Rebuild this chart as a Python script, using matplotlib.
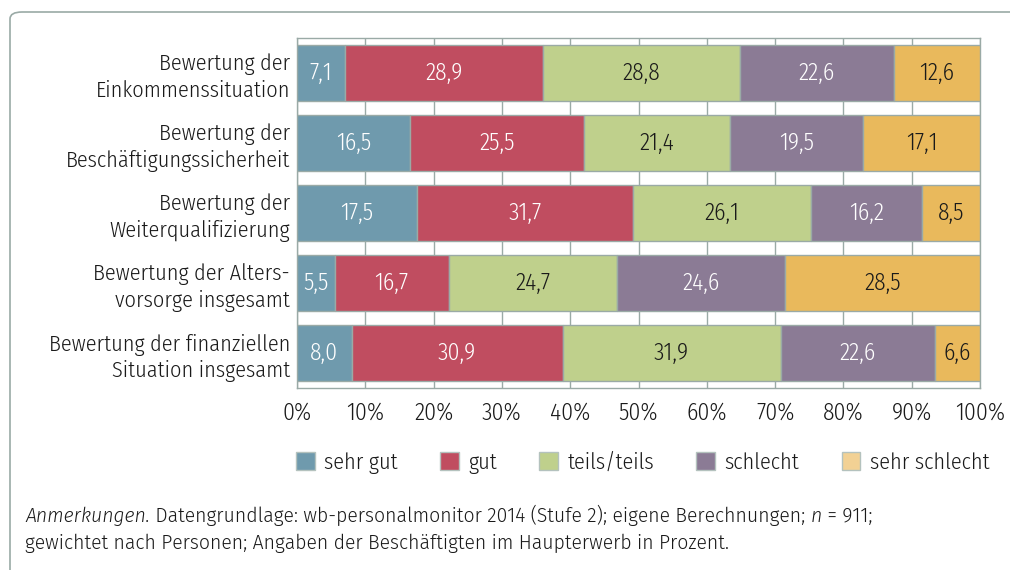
import os
import matplotlib
matplotlib.use("Agg")
import matplotlib.pyplot as plt
from matplotlib.patches import FancyBboxPatch, Patch
from matplotlib import font_manager
from matplotlib.font_manager import FontProperties

categories = [
    "Bewertung der\nEinkommenssituation",
    "Bewertung der\nBeschäftigungssicherheit",
    "Bewertung der\nWeiterqualifizierung",
    "Bewertung der Alters-\nvorsorge insgesamt",
    "Bewertung der finanziellen\nSituation insgesamt",
]
series_names = ["sehr gut", "gut", "teils/teils", "schlecht", "sehr schlecht"]
sehr_gut = [7.1, 16.5, 17.5, 5.5, 8.0]
gut = [28.9, 25.5, 31.7, 16.7, 30.9]
teils = [28.8, 21.4, 26.1, 24.7, 31.9]
schlecht = [22.6, 19.5, 16.2, 24.6, 22.6]
sehr_schlecht = [12.6, 17.1, 8.5, 28.5, 6.6]
series = [sehr_gut, gut, teils, schlecht, sehr_schlecht]
x_ticks = [0, 10, 20, 30, 40, 50, 60, 70, 80, 90, 100]
x_ticklabels = [f"{t}%" for t in x_ticks]

colors = ["#6f9aad", "#c04d60", "#bfd08c", "#8b7b95", "#e9b95c"]
legend_colors = ["#6f9aad", "#c04d60", "#bfd08c", "#8b7b95", "#f2d194"]
text_colors = ["white", "white", "#1a1a1a", "white", "#1a1a1a"]
edge = "#9aaaa6"

files = {os.path.basename(f.fname): f.fname for f in font_manager.fontManager.ttflist}


def pick(cands):
    for c in cands:
        if c in files:
            return files[c]
    return None


cond_reg = pick(["FiraSansCondensed-Light.ttf", "OpenSans_Condensed-Light.ttf",
                 "PTSansNarrow-Regular.ttf", "RobotoCondensed-Light.ttf"])
note_reg = pick(["FiraSans-Light.ttf", "OpenSans-Regular.ttf"])
note_ital = pick(["FiraSans-LightItalic.ttf", "OpenSans-Italic.ttf"])


def fp(path, size, italic=False):
    if path:
        return FontProperties(fname=path, size=size)
    return FontProperties(family="DejaVu Sans", size=size,
                          style="italic" if italic else "normal")


FS = 17
YFS = 16
LFS = 16
W, H = 1010, 570
fig = plt.figure(figsize=(W / 100, H / 100), dpi=100)

frame = FancyBboxPatch((10 / W, -0.1), 1.2, (H - 12) / H + 0.1,
                       boxstyle="round,pad=0,rounding_size=0.012",
                       transform=fig.transFigure, facecolor="white",
                       edgecolor=edge, linewidth=1.2, zorder=-5)
fig.patches.append(frame)

ax = fig.add_axes([297 / W, 1 - 388 / H, (980 - 297) / W, (388 - 38) / H])
n = len(categories)
ypos = list(range(n))
left = [0.0] * n
for s, vals in enumerate(series):
    ax.barh(ypos, vals, left=left, height=0.79, color=colors[s],
            edgecolor=edge, linewidth=1.0, zorder=3)
    for i, v in enumerate(vals):
        ax.text(left[i] + v / 2, ypos[i], f"{v:.1f}".replace(".", ","),
                ha="center", va="center", color=text_colors[s],
                fontproperties=fp(cond_reg, FS), zorder=4)
    left = [l + v for l, v in zip(left, vals)]

ax.set_xlim(0, 100)
ax.set_ylim(n - 0.5, -0.5)
ax.set_yticks(ypos)
ax.set_yticklabels(categories, color="#1a1a1a", linespacing=1.25)
for lab in ax.get_yticklabels():
    lab.set_fontproperties(fp(cond_reg, YFS))
ax.set_xticks(x_ticks)
ax.set_xticklabels(x_ticklabels, color="#1a1a1a")
for lab in ax.get_xticklabels():
    lab.set_fontproperties(fp(cond_reg, FS))
ax.tick_params(axis="y", length=0, pad=5)
ax.tick_params(axis="x", length=0, pad=10)
ax.grid(axis="x", color=edge, linewidth=1.0, zorder=0)
for sp in ax.spines.values():
    sp.set_color(edge)
    sp.set_linewidth(1.0)

handles = [Patch(facecolor=c, edgecolor="#b4c2be", linewidth=1.0) for c in legend_colors]
fig.legend(handles, series_names, loc="center left",
           bbox_to_anchor=(296 / W, 1 - 463 / H),
           ncol=5, frameon=False, prop=fp(cond_reg, LFS), handlelength=0.85,
           handleheight=0.85, handletextpad=0.42, columnspacing=1.9,
           borderpad=0, borderaxespad=0, labelcolor="#1a1a1a")

NFS = 14
parts = [("Anmerkungen.", True),
         (" Datengrundlage: wb-personalmonitor 2014 (Stufe 2); eigene Berechnungen; ", False),
         ("n", True), (" = 911;", False)]
ref = fig.text(25 / W, 1 - 522 / H, parts[0][0], fontproperties=fp(note_ital, NFS, True),
               va="baseline", ha="left", color="#1a1a1a")
for txt, it in parts[1:]:
    ref = fig.add_artist(matplotlib.text.Annotation(
        txt, xy=(1, 0), xycoords=ref, xytext=(0, 0), textcoords="offset points",
        fontproperties=fp(note_ital if it else note_reg, NFS, it),
        va="bottom", ha="left", color="#1a1a1a"))
fig.text(25 / W, 1 - 549 / H,
         "gewichtet nach Personen; Angaben der Beschäftigten im Haupterwerb in Prozent.",
         fontproperties=fp(note_reg, NFS), va="baseline", ha="left", color="#1a1a1a")

fig.savefig("out.png", dpi=100)
